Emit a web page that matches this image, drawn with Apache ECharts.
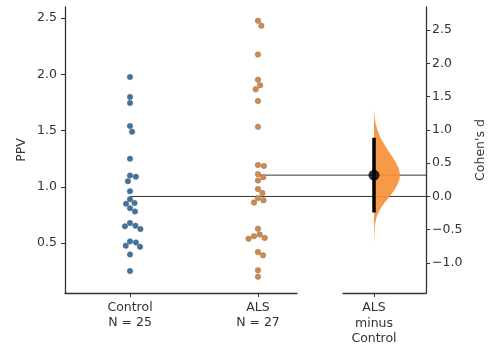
<!DOCTYPE html>
<html><head><meta charset="utf-8">
<script src="https://cdn.jsdelivr.net/npm/echarts@6/dist/echarts.min.js"></script>
<style>html,body{margin:0;padding:0;background:#fff}#c{width:491px;height:360px}</style>
</head><body><div id="c"></div>
<script>
// ---- data ----
const groups = ['Control', 'ALS'];
const groupSizes = ['N = 25', 'N = 27'];
const contrastLabel = 'ALS\nminus\nControl';
const controlPPV = [1.976, 1.80, 1.746, 1.54, 1.49, 1.25, 1.10, 1.09, 1.05, 0.96, 0.89, 0.855, 0.85, 0.81, 0.78,
  0.677, 0.654, 0.648, 0.624, 0.514, 0.505, 0.476, 0.466, 0.398, 0.25];
const alsPPV = [2.478, 2.434, 2.177, 1.953, 1.903, 1.867, 1.764, 1.534, 1.195, 1.186, 1.112, 1.086, 1.056, 0.98, 0.944,
  0.90, 0.88, 0.86, 0.626, 0.575, 0.56, 0.545, 0.537, 0.419, 0.39, 0.257, 0.2];
const ppvTicks = [0.5, 1.0, 1.5, 2.0, 2.5];
const cohenTicks = [-1.0, -0.5, 0.0, 0.5, 1.0, 1.5, 2.0, 2.5];
const cohenD = 0.32;
const cohenCI = [-0.24, 0.88];
// bootstrap distribution of Cohen's d (relative density)
const bootD =       [1.32, 1.20, 1.10, 1.00, 0.88, 0.78, 0.68, 0.58, 0.48, 0.40, 0.32, 0.24, 0.16, 0.08, 0.00, -0.08, -0.16, -0.24, -0.32, -0.42, -0.55, -0.70];
const bootDensity = [0.00, 0.02, 0.06, 0.13, 0.25, 0.40, 0.56, 0.73, 0.88, 0.97, 1.00, 0.97, 0.88, 0.76, 0.60, 0.44, 0.29, 0.17, 0.09, 0.04, 0.015, 0.0];

// ---- layout ----
const TOP = 7, H = 286;
const yA = [0.055, 2.6], xA = [-0.508, 1.305];
const yB = [-1.45, 2.845], xB = [-0.31, 0.52];
const gridA = {left: 65, top: TOP, width: 232, height: H};
const gridB = {left: 343, top: TOP, width: 83, height: H};
const gridC = {left: 65, top: TOP, width: 361, height: H};
const xC = [xA[0], xA[0] + (xA[1] - xA[0]) * gridC.width / gridA.width];
const pxPerX = gridA.width / (xA[1] - xA[0]);
const pxPerY = H / (yA[1] - yA[0]);
const DOT = 6;

function swarm(vals, center) {
  const pts = vals.map(v => ({v, y: v * pxPerY, x: 0}));
  const order = pts.slice().sort((a, b) => b.v - a.v);
  const placed = [];
  for (const p of order) {
    const cands = [0];
    for (const q of placed) {
      const dy = p.y - q.y;
      if (Math.abs(dy) < DOT) {
        const dx = Math.sqrt(DOT * DOT - dy * dy);
        cands.push(q.x + dx, q.x - dx);
      }
    }
    cands.sort((a, b) => Math.abs(a) - Math.abs(b));
    for (const c of cands) {
      if (placed.every(q => (q.x - c) ** 2 + (q.y - p.y) ** 2 >= DOT * DOT - 1e-6)) { p.x = c; break; }
    }
    placed.push(p);
  }
  return pts.map(p => [center + p.x / pxPerX, p.v]);
}

const txt = '#333';
const font = 'DejaVu Sans';
const axLine = {show: true, onZero: false, lineStyle: {color: '#333', width: 1.3}};
const tick = (vals) => ({show: true, customValues: vals, length: 4, lineStyle: {color: '#333', width: 1}});

const chart = echarts.init(document.getElementById('c'), null, {renderer: 'canvas'});
chart.setOption({
  animation: false,
  backgroundColor: '#fff',
  textStyle: {fontFamily: font},
  grid: [gridA, gridB, gridC],
  xAxis: [
    {gridIndex: 0, type: 'value', min: xA[0], max: xA[1], axisLine: axLine, splitLine: {show: false},
      axisTick: tick([0, 1]),
      axisLabel: {customValues: [0, 1], margin: 7, color: txt, fontSize: 12.5, lineHeight: 15, fontFamily: font,
        formatter: v => groups[Math.round(v)] + '\n' + groupSizes[Math.round(v)]}},
    {gridIndex: 1, type: 'value', min: xB[0], max: xB[1], axisLine: axLine, splitLine: {show: false},
      axisTick: tick([0]),
      axisLabel: {customValues: [0], margin: 7, color: txt, fontSize: 12.5, lineHeight: 15.5, fontFamily: font,
        formatter: () => contrastLabel}},
    {gridIndex: 2, type: 'value', min: xC[0], max: xC[1], show: false}
  ],
  yAxis: [
    {gridIndex: 0, type: 'value', min: yA[0], max: yA[1], axisLine: axLine, splitLine: {show: false},
      axisTick: tick(ppvTicks),
      axisLabel: {customValues: ppvTicks, margin: 8, color: txt, fontSize: 12.5, fontFamily: font, formatter: v => v.toFixed(1)},
      name: 'PPV', nameLocation: 'middle', nameRotate: 90, nameGap: 37,
      nameTextStyle: {color: txt, fontSize: 12.5, fontFamily: font}},
    {gridIndex: 1, type: 'value', position: 'right', min: yB[0], max: yB[1], axisLine: axLine, splitLine: {show: false},
      axisTick: tick(cohenTicks),
      axisLabel: {customValues: cohenTicks, margin: 6, color: txt, fontSize: 12.5, fontFamily: font,
        formatter: v => (v < 0 ? '\u2212' : '') + Math.abs(v).toFixed(1)},
      name: "Cohen's d", nameLocation: 'middle', nameRotate: 90, nameGap: 48,
      nameTextStyle: {color: txt, fontSize: 12.5, fontFamily: font}},
    {gridIndex: 2, type: 'value', min: yB[0], max: yB[1], show: false}
  ],
  series: [
    {type: 'line', xAxisIndex: 2, yAxisIndex: 2, data: [[0, 0], [xC[1], 0]], symbol: 'none',
      lineStyle: {color: '#333', width: 1}, z: 1},
    {type: 'line', xAxisIndex: 2, yAxisIndex: 2, data: [[1, cohenD], [xC[1], cohenD]], symbol: 'none',
      lineStyle: {color: '#333', width: 1}, z: 1},
    {type: 'scatter', xAxisIndex: 0, yAxisIndex: 0, data: swarm(controlPPV, 0), symbolSize: 5.5,
      itemStyle: {color: '#3f72a4', borderColor: '#5a6a7a', borderWidth: 0.5, opacity: 1}, z: 3},
    {type: 'scatter', xAxisIndex: 0, yAxisIndex: 0, data: swarm(alsPPV, 1), symbolSize: 5.5,
      itemStyle: {color: '#d38a48', borderColor: '#8a7560', borderWidth: 0.5, opacity: 1}, z: 3},
    {type: 'custom', xAxisIndex: 1, yAxisIndex: 1, data: [0], z: 2,
      renderItem: (params, api) => {
        const halfW = 0.26;
        const pts = [];
        for (let i = 0; i < bootD.length; i++) pts.push(api.coord([bootDensity[i] * halfW, bootD[i]]));
        for (let i = bootD.length - 1; i >= 0; i--) pts.push(api.coord([0, bootD[i]]));
        return {type: 'polygon', shape: {points: pts}, style: {fill: '#f5913a', opacity: 0.92}};
      }},
    {type: 'line', xAxisIndex: 1, yAxisIndex: 1, data: [[0, cohenCI[0]], [0, cohenCI[1]]], symbol: 'none',
      lineStyle: {color: '#000', width: 3.5}, z: 4},
    {type: 'scatter', xAxisIndex: 1, yAxisIndex: 1, data: [[0, cohenD]], symbolSize: 11,
      itemStyle: {color: '#000'}, z: 5}
  ]
});
</script></body></html>
